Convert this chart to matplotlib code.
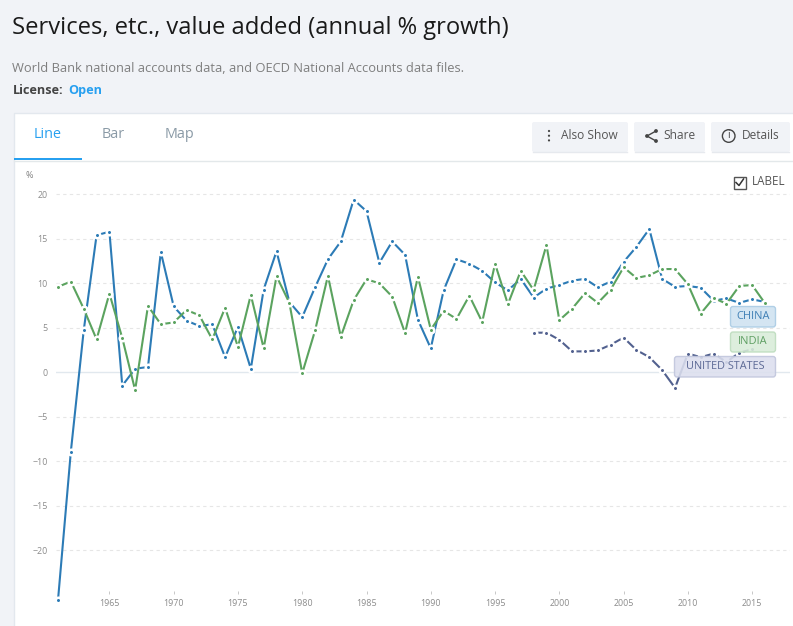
import matplotlib
matplotlib.use("Agg")
import matplotlib.pyplot as plt
from matplotlib.patches import FancyBboxPatch, Rectangle, Circle
from matplotlib.lines import Line2D

years = list(range(1961, 2017))
china = [-25.6, -8.9, 4.7, 15.4, 15.8, -1.5, 0.4, 0.6, 13.5, 7.4, 5.8, 5.2, 5.4, 1.7, 5.1, 0.4, 9.3, 13.6, 7.9,
         6.2, 9.55, 12.7, 14.7, 19.4, 18.1, 12.3, 14.7, 13.2, 5.9, 2.7, 9.2, 12.7, 12.2, 11.4, 10.1, 9.2, 10.5,
         8.4, 9.4, 9.8, 10.3, 10.5, 9.55, 10.2, 12.4, 14.1, 16.1, 10.5, 9.6, 9.7, 9.5, 8.05, 8.3, 7.8, 8.2, 7.9]
india = [9.6, 10.2, 7.15, 3.7, 8.85, 3.85, -2.0, 7.45, 5.4, 5.6, 7.0, 6.4, 3.7, 7.25, 2.85, 8.7, 2.7, 10.8, 7.8,
         -0.1, 4.7, 10.85, 4.0, 8.1, 10.45, 10.0, 8.5, 4.4, 10.75, 4.8, 6.9, 6.0, 8.6, 5.65, 12.2, 7.65, 11.4,
         9.25, 14.3, 5.85, 7.15, 8.9, 7.8, 9.3, 11.8, 10.6, 10.9, 11.6, 11.6, 9.9, 6.6, 8.35, 7.7, 9.7, 9.8, 7.75]
us_years = list(range(1998, 2016))
usa = [4.45, 4.45, 3.65, 2.35, 2.35, 2.45, 3.1, 3.9, 2.5, 1.7, 0.25, -1.75, 2.1, 1.7, 2.1, 1.15, 2.2, 2.6]
y_ticks = [-20, -15, -10, -5, 0, 5, 10, 15, 20]
x_ticks = [1965, 1970, 1975, 1980, 1985, 1990, 1995, 2000, 2005, 2010, 2015]

W, H = 793, 626
plt.rcParams["font.family"] = ["Open Sans", "DejaVu Sans"]

fig = plt.figure(figsize=(W / 100, H / 100), dpi=100, facecolor="#f1f3f7")
page = fig.add_axes([0, 0, 1, 1])
page.set_xlim(0, W)
page.set_ylim(H, 0)
page.axis("off")

page.add_patch(Rectangle((13.5, 112.5), W, H, fc="white", ec="#e3e8ee", lw=1))
page.add_artist(Line2D([14, W], [160.5, 160.5], color="#e3e8ea", lw=1))
page.add_patch(Rectangle((14, 158), 68, 2, fc="#27a0f0", ec="none", zorder=3))

page.text(12.5, 28.3, "Services, etc., value added (annual % growth)", fontsize=17.15, color="#1a1a1a", va="center")
page.text(12.5, 68.3, "World Bank national accounts data, and OECD National Accounts data files.", fontsize=9.3, color="#7e7e7e", va="center")
page.text(12.5, 90.7, "License:", fontsize=9.1, color="#444444", va="center", fontweight="bold")
page.text(68, 90.7, "Open", fontsize=9.1, color="#27a0f0", va="center", fontweight="bold")
page.text(34, 134, "Line", fontsize=10.4, color="#27a0f0", va="center")
page.text(101.5, 134, "Bar", fontsize=10.4, color="#8a9aa6", va="center")
page.text(164.5, 134, "Map", fontsize=10.4, color="#8a9aa6", va="center")

for x0, x1, txt, tx in [(532, 628, "Also Show", 561), (634, 705, "Share", 663), (711, 790, "Details", 742)]:
    page.add_patch(FancyBboxPatch((x0, 122), x1 - x0, 30, boxstyle="round,pad=0,rounding_size=2", fc="#f1f3f7", ec="none"))
    page.add_artist(Line2D([x0 + 1, x1 - 1], [151.5, 151.5], color="#e6e9ee", lw=1))
    page.text(tx, 135.6, txt, fontsize=8.6, color="#555555", va="center")
for yy in (131, 135.7, 140.4):
    page.add_patch(Circle((549, yy), 1.1, fc="#444444", ec="none"))
page.add_artist(Line2D([656, 647, 656], [131, 136, 141], color="#444444", lw=1))
for px, py in [(656, 131), (647, 136), (656, 141)]:
    page.add_patch(Circle((px, py), 1.9, fc="#444444", ec="none"))
page.add_patch(Circle((728.7, 136), 6.3, fc="none", ec="#444444", lw=1))
page.text(728.7, 136, "i", fontsize=7.5, color="#444444", ha="center", va="center")

page.add_patch(Rectangle((733.5, 176.5), 12, 12, fc="white", ec="#555555", lw=1))
page.add_artist(Line2D([736, 739, 743.5], [182.5, 185.5, 179], color="#333333", lw=1.1))
page.text(751.5, 181.7, "LABEL", fontsize=8.4, color="#555555", va="center")
page.text(25, 175.7, "%", fontsize=6.4, color="#808080", va="center")

# 1961 sits at x=58, 2016 at x=765; 20 at y=194.3, 0 at y=372.3
px_year = (765 - 58) / 55
px_unit = (372.3 - 194.3) / 20
ax_l, ax_r = 56, 790
ax_t, ax_b = 165, 591
ax = fig.add_axes([ax_l / W, 1 - ax_b / H, (ax_r - ax_l) / W, (ax_b - ax_t) / H])
ax.set_xlim(1961 + (ax_l - 58) / px_year, 1961 + (ax_r - 58) / px_year)
ax.set_ylim((372.3 - ax_b) / px_unit, (372.3 - ax_t) / px_unit)
ax.patch.set_alpha(0)
for s in ax.spines.values():
    s.set_visible(False)
ax.set_yticks(y_ticks)
ax.set_xticks(x_ticks)
ax.tick_params(axis="y", length=0, pad=5.8, labelsize=6.4, labelcolor="#8c8c8c")
ax.tick_params(axis="x", length=2.2, width=0.7, color="#c8c8c8", pad=3.4, labelsize=6.4, labelcolor="#8c8c8c")
for t in y_ticks:
    if t == 0:
        ax.axhline(0, color="#e1e8ee", lw=1, zorder=1)
    else:
        ax.axhline(t, color="#e6e6e6", lw=0.8, ls=(0, (3, 3)), zorder=1)

BLUE, GREEN, NAVY = "#2c7bb6", "#5ba35f", "#52618f"
for xs, ys, col, z in [(years, china, BLUE, 3), (years, india, GREEN, 4), (us_years, usa, NAVY, 5)]:
    ax.plot(xs, ys, color=col, lw=1.5, zorder=z, solid_joinstyle="round",
            marker="o", ms=4.0, mfc=col, mec="white", mew=1.8, clip_on=False)

page.set_zorder(0)
ax.set_zorder(1)
lab_ax = fig.add_axes([0, 0, 1, 1], zorder=2)
lab_ax.set_xlim(0, W)
lab_ax.set_ylim(H, 0)
lab_ax.axis("off")
for name, x0, x1, y0, y1, fc, ec, tc, fs in [
    ("CHINA", 730.5, 775.5, 306.5, 327, "#cfe2f1", "#a9cbe4", "#3f7fb5", 7.9),
    ("INDIA", 730.5, 775.5, 332, 352, "#d9ecd9", "#bcdcbd", "#5f9f63", 7.9),
    ("UNITED STATES", 674.5, 775.5, 356.5, 377, "#dcdfee", "#c0c5dc", "#5d6a96", 7.8),
]:
    lab_ax.add_patch(FancyBboxPatch((x0, y0), x1 - x0, y1 - y0, boxstyle="round,pad=0,rounding_size=2.5", fc=fc, ec=ec, lw=1, alpha=0.88))
    lab_ax.text((x0 + x1) / 2, (y0 + y1) / 2, name, fontsize=fs, color=tc, ha="center", va="center")

fig.savefig("out.png", dpi=100, facecolor=fig.get_facecolor())
